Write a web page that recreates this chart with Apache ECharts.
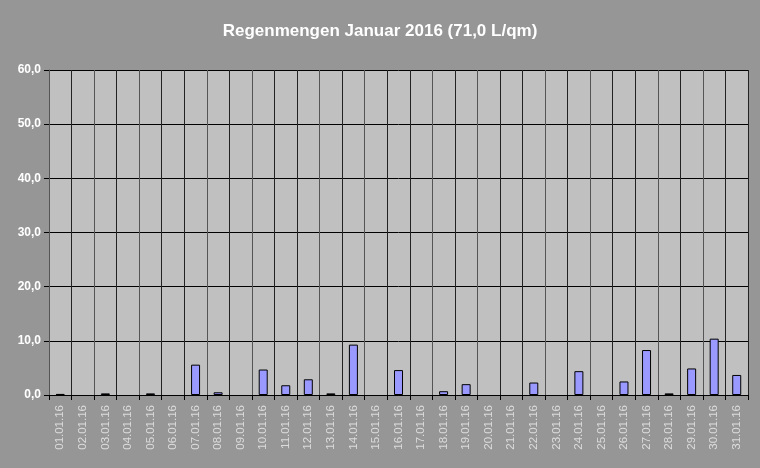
<!DOCTYPE html>
<html><head><meta charset="utf-8">
<script src="https://cdn.jsdelivr.net/npm/echarts@6/dist/echarts.min.js"></script>
<style>html,body{margin:0;padding:0;background:#969696}#c{width:760px;height:468px}</style>
</head><body><div id="c"></div>
<script>
var categories = ['01.01.16','02.01.16','03.01.16','04.01.16','05.01.16','06.01.16','07.01.16','08.01.16','09.01.16','10.01.16','11.01.16','12.01.16','13.01.16','14.01.16','15.01.16','16.01.16','17.01.16','18.01.16','19.01.16','20.01.16','21.01.16','22.01.16','23.01.16','24.01.16','25.01.16','26.01.16','27.01.16','28.01.16','29.01.16','30.01.16','31.01.16'];
var rain = [0.2,0,0.3,0,0.3,0,5.6,0.5,0,4.7,1.8,2.9,0.3,9.3,0,4.6,0,0.7,2.0,0,0,2.3,0,4.4,0,2.5,8.3,0.3,4.9,10.4,3.7];
var yTicks = [0,10,20,30,40,50,60];
var title = 'Regenmengen Januar 2016 (71,0 L/qm)';

var chart = echarts.init(document.getElementById('c'));
chart.setOption({
  backgroundColor: '#969696',
  animation: false,
  title: {text: title, left: 'center', top: 18, textStyle: {color: '#ffffff', fontFamily: 'Liberation Sans, Arial', fontSize: 17, fontWeight: 'bold'}},
  grid: {left: 49, right: 12, top: 70, bottom: 73, show: true, backgroundColor: '#c0c0c0', borderWidth: 0},
  xAxis: {
    type: 'category', data: categories,
    axisLine: {lineStyle: {color: '#000', width: 1}},
    axisTick: {show: true, length: 5, lineStyle: {color: '#000'}},
    splitLine: {show: true, lineStyle: {color: ['#222', '#222', '#555', '#222', '#555'], width: 1}},
    axisLabel: {rotate: 90, color: '#dcdcdc', fontFamily: 'Liberation Sans, Arial', fontSize: 11.5, margin: 10}
  },
  yAxis: {
    type: 'value', min: yTicks[0], max: yTicks[yTicks.length-1], interval: 10,
    axisLine: {show: true, lineStyle: {color: '#555', width: 1}},
    axisTick: {show: true, length: 5, lineStyle: {color: '#000'}},
    splitLine: {show: true, lineStyle: {color: '#000', width: 1}},
    axisLabel: {color: '#ffffff', fontFamily: 'Liberation Sans, Arial', fontSize: 12, fontWeight: 'bold', margin: 8,
      formatter: function(v){ return v.toFixed(1).replace('.', ','); }}
  },
  series: [{
    type: 'bar', data: rain.map(function(v){ return v === 0 ? '-' : v; }), barWidth: 9,
    itemStyle: {color: '#9999ff', borderColor: '#000', borderWidth: 1}
  }]
});
</script></body></html>
